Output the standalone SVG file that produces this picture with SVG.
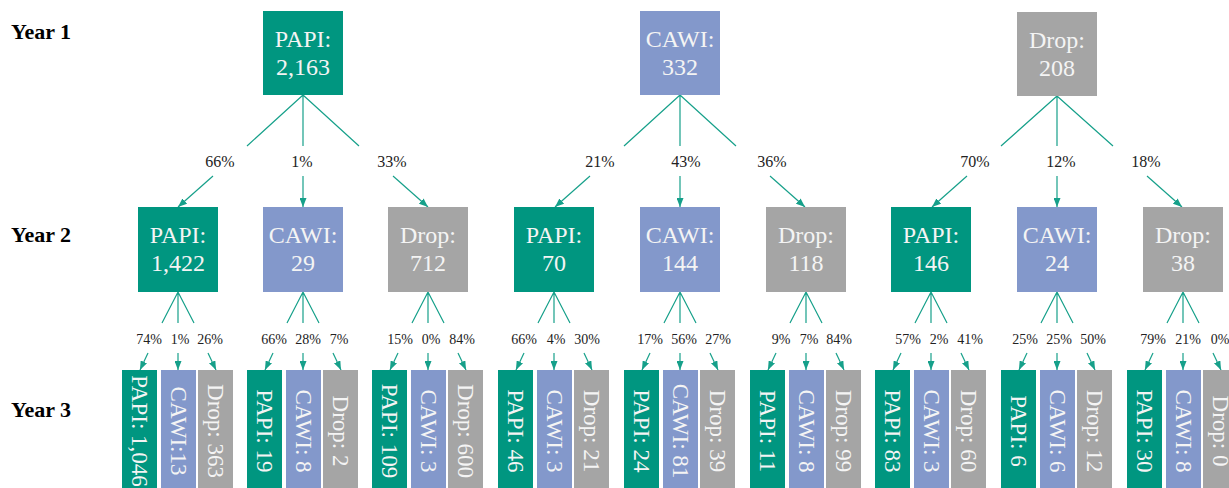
<svg xmlns="http://www.w3.org/2000/svg" width="1229" height="488" viewBox="0 0 1229 488">
<style>
.p{fill:#009680}.c{fill:#8398CB}.d{fill:#A5A5A5}
.t{font-family:"Liberation Serif","Times New Roman",serif;font-size:24px;fill:#f4f4f4;text-anchor:middle}
.v{font-family:"Liberation Serif","Times New Roman",serif;font-size:23px;fill:#f4f4f4;text-anchor:middle;dominant-baseline:central}
.y{font-family:"Liberation Serif","Times New Roman",serif;font-size:22px;font-weight:bold;fill:#000}
.l1{font-family:"Liberation Serif","Times New Roman",serif;font-size:16px;fill:#222;text-anchor:middle}
.l2{font-family:"Liberation Serif","Times New Roman",serif;font-size:14px;fill:#222;text-anchor:middle}
.e{fill:none;stroke:#16a08a;stroke-width:1.2}
.a{marker-end:url(#ah)}
</style>
<defs>
<marker id="ah" markerWidth="9" markerHeight="7" refX="9" refY="3.5" orient="auto" markerUnits="userSpaceOnUse"><path d="M0,0 L9,3.5 L0,7 z" fill="#16a08a"/></marker>
</defs>
<rect width="1229" height="488" fill="#fff"/>
<g id="year-labels">
<text class="y" x="11" y="39">Year 1</text>
<text class="y" x="11" y="242">Year 2</text>
<text class="y" x="11" y="417">Year 3</text>
</g>
<g id="connectors">
<path class="e" d="M303 95L247 146M303 95L303 146M303 95L359 146"/>
<path class="e a" d="M213 176L178 207"/><path class="e a" d="M303 176L303 207"/><path class="e a" d="M393 176L428 207"/>
<path class="e" d="M680 95L624 146M680 95L680 146M680 95L736 146"/>
<path class="e a" d="M590 176L555 207"/><path class="e a" d="M680 176L680 207"/><path class="e a" d="M770 176L805 207"/>
<path class="e" d="M1057 96L1001 146M1057 96L1057 146M1057 96L1113 146"/>
<path class="e a" d="M967 176L932 207"/><path class="e a" d="M1057 176L1057 207"/><path class="e a" d="M1147 176L1182 207"/>
<text class="l1" x="220" y="167">66%</text><text class="l1" x="302" y="167">1%</text><text class="l1" x="392" y="167">33%</text>
<text class="l1" x="600" y="167">21%</text><text class="l1" x="686" y="167">43%</text><text class="l1" x="772" y="167">36%</text>
<text class="l1" x="975" y="167">70%</text><text class="l1" x="1061" y="167">12%</text><text class="l1" x="1146" y="167">18%</text>

<path class="e" d="M178 292L162 323M178 292L178 323M178 292L194 323"/>
<path class="e a" d="M148 353L140 370"/><path class="e a" d="M178 353L178 370"/><path class="e a" d="M208 353L216 370"/>
<path class="e" d="M303 292L287 323M303 292L303 323M303 292L319 323"/>
<path class="e a" d="M273 353L265 370"/><path class="e a" d="M303 353L303 370"/><path class="e a" d="M333 353L341 370"/>
<path class="e" d="M428 292L412 323M428 292L428 323M428 292L444 323"/>
<path class="e a" d="M398 353L390 370"/><path class="e a" d="M428 353L428 370"/><path class="e a" d="M458 353L466 370"/>
<path class="e" d="M554 292L538 323M554 292L554 323M554 292L570 323"/>
<path class="e a" d="M524 353L516 370"/><path class="e a" d="M554 353L554 370"/><path class="e a" d="M584 353L592 370"/>
<path class="e" d="M680 292L664 323M680 292L680 323M680 292L696 323"/>
<path class="e a" d="M650 353L642 370"/><path class="e a" d="M680 353L680 370"/><path class="e a" d="M710 353L718 370"/>
<path class="e" d="M806 292L790 323M806 292L806 323M806 292L822 323"/>
<path class="e a" d="M776 353L768 370"/><path class="e a" d="M806 353L806 370"/><path class="e a" d="M836 353L844 370"/>
<path class="e" d="M931 292L915 323M931 292L931 323M931 292L947 323"/>
<path class="e a" d="M901 353L893 370"/><path class="e a" d="M931 353L931 370"/><path class="e a" d="M961 353L969 370"/>
<path class="e" d="M1057 292L1041 323M1057 292L1057 323M1057 292L1073 323"/>
<path class="e a" d="M1027 353L1019 370"/><path class="e a" d="M1057 353L1057 370"/><path class="e a" d="M1087 353L1095 370"/>
<path class="e" d="M1183 292L1167 323M1183 292L1183 323M1183 292L1199 323"/>
<path class="e a" d="M1153 353L1145 370"/><path class="e a" d="M1183 353L1183 370"/><path class="e a" d="M1213 353L1221 370"/>

<text class="l2" x="149" y="344">74%</text><text class="l2" x="180" y="344">1%</text><text class="l2" x="210" y="344">26%</text>
<text class="l2" x="274" y="344">66%</text><text class="l2" x="308" y="344">28%</text><text class="l2" x="339" y="344">7%</text>
<text class="l2" x="400" y="344">15%</text><text class="l2" x="431" y="344">0%</text><text class="l2" x="462" y="344">84%</text>
<text class="l2" x="524" y="344">66%</text><text class="l2" x="556" y="344">4%</text><text class="l2" x="587" y="344">30%</text>
<text class="l2" x="650" y="344">17%</text><text class="l2" x="684" y="344">56%</text><text class="l2" x="718" y="344">27%</text>
<text class="l2" x="781" y="344">9%</text><text class="l2" x="809" y="344">7%</text><text class="l2" x="839" y="344">84%</text>
<text class="l2" x="908" y="344">57%</text><text class="l2" x="939" y="344">2%</text><text class="l2" x="970" y="344">41%</text>
<text class="l2" x="1025" y="344">25%</text><text class="l2" x="1059" y="344">25%</text><text class="l2" x="1093" y="344">50%</text>
<text class="l2" x="1153" y="344">79%</text><text class="l2" x="1188" y="344">21%</text><text class="l2" x="1220" y="344">0%</text>
</g>

<g id="y1-papi"><rect class="p" x="263" y="11" width="80" height="84"/><text class="t" x="303" y="47">PAPI:</text><text class="t" x="303" y="75">2,163</text></g>
<g id="y1-cawi"><rect class="c" x="640" y="11" width="80" height="84"/><text class="t" x="680" y="47">CAWI:</text><text class="t" x="680" y="75">332</text></g>
<g id="y1-drop"><rect class="d" x="1017" y="12" width="80" height="84"/><text class="t" x="1057" y="48">Drop:</text><text class="t" x="1057" y="76">208</text></g>

<g id="y2-papi-papi"><rect class="p" x="138" y="207" width="80" height="85"/><text class="t" x="178" y="243">PAPI:</text><text class="t" x="178" y="271">1,422</text></g>
<g id="y2-papi-cawi"><rect class="c" x="263" y="207" width="80" height="85"/><text class="t" x="303" y="243">CAWI:</text><text class="t" x="303" y="271">29</text></g>
<g id="y2-papi-drop"><rect class="d" x="388" y="207" width="80" height="85"/><text class="t" x="428" y="243">Drop:</text><text class="t" x="428" y="271">712</text></g>
<g id="y2-cawi-papi"><rect class="p" x="514" y="207" width="80" height="85"/><text class="t" x="554" y="243">PAPI:</text><text class="t" x="554" y="271">70</text></g>
<g id="y2-cawi-cawi"><rect class="c" x="640" y="207" width="80" height="85"/><text class="t" x="680" y="243">CAWI:</text><text class="t" x="680" y="271">144</text></g>
<g id="y2-cawi-drop"><rect class="d" x="766" y="207" width="80" height="85"/><text class="t" x="806" y="243">Drop:</text><text class="t" x="806" y="271">118</text></g>
<g id="y2-drop-papi"><rect class="p" x="891" y="207" width="80" height="85"/><text class="t" x="931" y="243">PAPI:</text><text class="t" x="931" y="271">146</text></g>
<g id="y2-drop-cawi"><rect class="c" x="1017" y="207" width="80" height="85"/><text class="t" x="1057" y="243">CAWI:</text><text class="t" x="1057" y="271">24</text></g>
<g id="y2-drop-drop"><rect class="d" x="1143" y="207" width="80" height="85"/><text class="t" x="1183" y="243">Drop:</text><text class="t" x="1183" y="271">38</text></g>

<g id="y3-g1-papi"><rect class="p" x="122" y="370" width="35" height="125"/><text class="v" x="139.5" y="431" transform="rotate(90 139.5 431)">PAPI: 1,046</text></g>
<g id="y3-g1-cawi"><rect class="c" x="161" y="370" width="35" height="125"/><text class="v" x="178.5" y="431" transform="rotate(90 178.5 431)">CAWI:13</text></g>
<g id="y3-g1-drop"><rect class="d" x="198" y="370" width="35" height="125"/><text class="v" x="215.5" y="431" transform="rotate(90 215.5 431)">Drop: 363</text></g>

<g id="y3-g2-papi"><rect class="p" x="247" y="370" width="35" height="125"/><text class="v" x="264.5" y="431" transform="rotate(90 264.5 431)">PAPI: 19</text></g>
<g id="y3-g2-cawi"><rect class="c" x="286" y="370" width="35" height="125"/><text class="v" x="303.5" y="431" transform="rotate(90 303.5 431)">CAWI: 8</text></g>
<g id="y3-g2-drop"><rect class="d" x="323" y="370" width="35" height="125"/><text class="v" x="340.5" y="431" transform="rotate(90 340.5 431)">Drop: 2</text></g>

<g id="y3-g3-papi"><rect class="p" x="372" y="370" width="35" height="125"/><text class="v" x="389.5" y="431" transform="rotate(90 389.5 431)">PAPI: 109</text></g>
<g id="y3-g3-cawi"><rect class="c" x="411" y="370" width="35" height="125"/><text class="v" x="428.5" y="431" transform="rotate(90 428.5 431)">CAWI: 3</text></g>
<g id="y3-g3-drop"><rect class="d" x="448" y="370" width="35" height="125"/><text class="v" x="465.5" y="431" transform="rotate(90 465.5 431)">Drop: 600</text></g>

<g id="y3-g4-papi"><rect class="p" x="498" y="370" width="35" height="125"/><text class="v" x="515.5" y="431" transform="rotate(90 515.5 431)">PAPI: 46</text></g>
<g id="y3-g4-cawi"><rect class="c" x="537" y="370" width="35" height="125"/><text class="v" x="554.5" y="431" transform="rotate(90 554.5 431)">CAWI: 3</text></g>
<g id="y3-g4-drop"><rect class="d" x="574" y="370" width="35" height="125"/><text class="v" x="591.5" y="431" transform="rotate(90 591.5 431)">Drop: 21</text></g>

<g id="y3-g5-papi"><rect class="p" x="624" y="370" width="35" height="125"/><text class="v" x="641.5" y="431" transform="rotate(90 641.5 431)">PAPI: 24</text></g>
<g id="y3-g5-cawi"><rect class="c" x="663" y="370" width="35" height="125"/><text class="v" x="680.5" y="431" transform="rotate(90 680.5 431)">CAWI: 81</text></g>
<g id="y3-g5-drop"><rect class="d" x="700" y="370" width="35" height="125"/><text class="v" x="717.5" y="431" transform="rotate(90 717.5 431)">Drop: 39</text></g>

<g id="y3-g6-papi"><rect class="p" x="750" y="370" width="35" height="125"/><text class="v" x="767.5" y="431" transform="rotate(90 767.5 431)">PAPI: 11</text></g>
<g id="y3-g6-cawi"><rect class="c" x="789" y="370" width="35" height="125"/><text class="v" x="806.5" y="431" transform="rotate(90 806.5 431)">CAWI: 8</text></g>
<g id="y3-g6-drop"><rect class="d" x="826" y="370" width="35" height="125"/><text class="v" x="843.5" y="431" transform="rotate(90 843.5 431)">Drop: 99</text></g>

<g id="y3-g7-papi"><rect class="p" x="875" y="370" width="35" height="125"/><text class="v" x="892.5" y="431" transform="rotate(90 892.5 431)">PAPI: 83</text></g>
<g id="y3-g7-cawi"><rect class="c" x="914" y="370" width="35" height="125"/><text class="v" x="931.5" y="431" transform="rotate(90 931.5 431)">CAWI: 3</text></g>
<g id="y3-g7-drop"><rect class="d" x="951" y="370" width="35" height="125"/><text class="v" x="968.5" y="431" transform="rotate(90 968.5 431)">Drop: 60</text></g>

<g id="y3-g8-papi"><rect class="p" x="1001" y="370" width="35" height="125"/><text class="v" x="1018.5" y="431" transform="rotate(90 1018.5 431)">PAPI: 6</text></g>
<g id="y3-g8-cawi"><rect class="c" x="1040" y="370" width="35" height="125"/><text class="v" x="1057.5" y="431" transform="rotate(90 1057.5 431)">CAWI: 6</text></g>
<g id="y3-g8-drop"><rect class="d" x="1077" y="370" width="35" height="125"/><text class="v" x="1094.5" y="431" transform="rotate(90 1094.5 431)">Drop: 12</text></g>

<g id="y3-g9-papi"><rect class="p" x="1127" y="370" width="35" height="125"/><text class="v" x="1144.5" y="431" transform="rotate(90 1144.5 431)">PAPI: 30</text></g>
<g id="y3-g9-cawi"><rect class="c" x="1166" y="370" width="35" height="125"/><text class="v" x="1183.5" y="431" transform="rotate(90 1183.5 431)">CAWI: 8</text></g>
<g id="y3-g9-drop"><rect class="d" x="1203" y="370" width="35" height="125"/><text class="v" x="1220.5" y="431" transform="rotate(90 1220.5 431)">Drop: 0</text></g>
</svg>
